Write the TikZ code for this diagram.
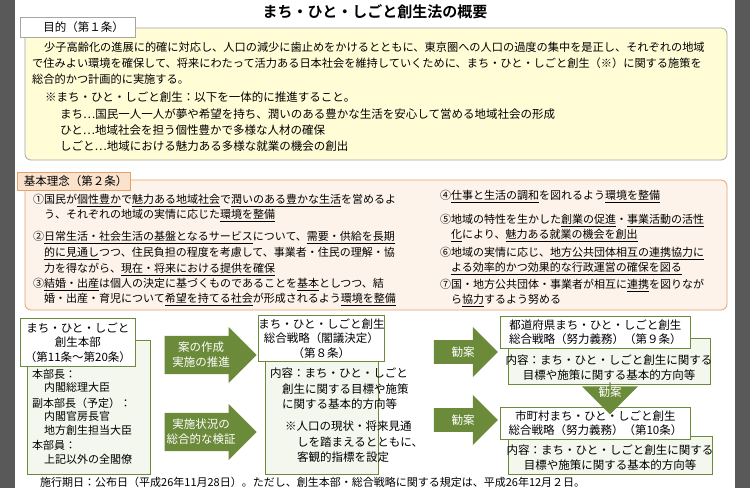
\documentclass[tikz,border=0pt]{standalone}
\usepackage{fontspec}
\setmainfont{Noto Sans CJK JP}[BoldFont={Noto Sans CJK JP Bold}]
\usetikzlibrary{shapes.arrows, positioning}
\definecolor{frameyel}{HTML}{FFFCD6}
\definecolor{framepeach}{HTML}{FDF3EA}
\definecolor{edgeorange}{HTML}{E0A46A}
\definecolor{tabpeach}{HTML}{FBE2CC}
\definecolor{olive}{HTML}{6B8A3A}
\definecolor{palegreen}{HTML}{F4F7EE}
\newcommand\ud[1]{\underline{#1}}
\begin{document}
\begin{tikzpicture}[
    x=1pt, y=-1pt,
    txt/.style={anchor=north west, inner sep=0pt, align=left, font=\fontsize{11.5}{15.5}\selectfont},
    tab/.style={draw=gray!70, fill=white, anchor=north west, inner sep=0pt, font=\fontsize{11.5}{14}\selectfont},
    headbox/.style={draw=olive, fill=white, thick, align=center, inner sep=0pt, font=\fontsize{11.5}{14.5}\selectfont},
    bodybox/.style={draw=olive, fill=palegreen, thick},
    greenarrow/.style={single arrow, fill=olive, draw=none, text=white, align=center, inner sep=0pt,
        single arrow head extend=6pt, shape border rotate=0, font=\fontsize{11.5}{15}\selectfont}
]
   % background
   \fill[black!65] (0,0) rectangle (750,488);
   \fill[white] (15,0) rectangle (735,488);
   \useasboundingbox (0,0) rectangle (750,488);

   \node[font=\bfseries\fontsize{15}{18}\selectfont] (title) at (375,12) {まち・ひと・しごと創生法の概要};

   % purpose
   \draw[gray!70, fill=frameyel, rounded corners=6pt, thick] (25,28) rectangle (727,160);
   \node[tab, minimum width=115pt, minimum height=20pt] (purposetab) at (20,17) {\hspace{12pt}目的（第１条）};
   \node[txt, font=\fontsize{11.2}{16}\selectfont] (purpose) at (32,42) {\hspace{12pt}少子高齢化の進展に的確に対応し、人口の減少に歯止めをかけるとともに、東京圏への人口の過度の集中を是正し、それぞれの地域\\
   で住みよい環境を確保して、将来にわたって活力ある日本社会を維持していくために、まち・ひと・しごと創生（※）に関する施策を\\
   総合的かつ計画的に実施する。};
   \node[txt] (note) at (45,92) {※まち・ひと・しごと創生：以下を一体的に推進すること。};
   \node[txt] (machi) at (60,109) {まち…国民一人一人が夢や希望を持ち、潤いのある豊かな生活を安心して営める地域社会の形成};
   \node[txt] (hito) at (60,125) {ひと…地域社会を担う個性豊かで多様な人材の確保};
   \node[txt] (shigoto) at (60,141) {しごと…地域における魅力ある多様な就業の機会の創出};

   % basic principles
   \draw[edgeorange, fill=framepeach, rounded corners=6pt, thick] (25,180) rectangle (727,310);
   \node[tab, draw=edgeorange, fill=tabpeach, minimum width=113pt, minimum height=18pt] (principletab) at (17,172) {\hspace{4pt}基本理念（第２条）\hfill};
   \node[txt, font=\fontsize{11}{15}\selectfont] (p1) at (33,194) {①国民が\ud{個性豊か}で\ud{魅力ある地域社会}で\ud{潤いのある豊かな生活}を営めるよ\\
   \hspace{11pt}う、それぞれの地域の実情に応じた\ud{環境を整備}};
   \node[txt, font=\fontsize{11}{16}\selectfont] (p2) at (33,231) {②\ud{日常生活・社会生活の基盤となるサービス}について、\ud{需要・供給を長期}\\
   \hspace{11pt}\ud{的に見通し}つつ、住民負担の程度を考慮して、事業者・住民の理解・協\\
   \hspace{11pt}力を得ながら、\ud{現在・将来における提供を確保}};
   \node[txt, font=\fontsize{11}{15}\selectfont] (p3) at (33,278) {③\ud{結婚・出産}は個人の決定に基づくものであることを\ud{基本}としつつ、結\\
   \hspace{11pt}婚・出産・育児について\ud{希望を持てる社会}が形成されるよう\ud{環境を整備}};
   \node[txt, font=\fontsize{11}{15}\selectfont] (p4) at (440,190) {④\ud{仕事と生活の調和}を図れるよう\ud{環境を整備}};
   \node[txt, font=\fontsize{11}{15}\selectfont] (p5) at (440,214) {⑤地域の特性を生かした\ud{創業の促進}・\ud{事業活動の活性}\\
   \hspace{11pt}\ud{化}により、\ud{魅力ある就業の機会を創出}};
   \node[txt, font=\fontsize{11}{15}\selectfont] (p6) at (440,247) {⑥地域の実情に応じ、\ud{地方公共団体相互の連携協力に}\\
   \hspace{11pt}\ud{よる効率的かつ効果的な行政運営の確保を図る}};
   \node[txt, font=\fontsize{11}{15}\selectfont] (p7) at (440,279) {⑦国・地方公共団体・事業者が相互に\ud{連携}を図りなが\\
   \hspace{11pt}ら\ud{協力}するよう努める};

   % headquarters
   \draw[bodybox] (27,340) rectangle (150,474);
   \node[headbox, minimum width=115pt, minimum height=48pt, anchor=north west] (hq) at (20,318) {まち・ひと・しごと\\創生本部\\（第11条～第20条）};
   \node[txt, font=\fontsize{11}{13.5}\selectfont] (hqmembers) at (32,369) {本部長：\\\hspace{12pt}内閣総理大臣\\[2pt]副本部長（予定）：\\\hspace{12pt}内閣官房長官\\\hspace{12pt}地方創生担当大臣\\[2pt]本部員：\\\hspace{12pt}上記以外の全閣僚};

   % national strategy
   \draw[bodybox] (265,345) rectangle (378,474);
   \node[headbox, minimum width=117pt, minimum height=46pt, anchor=north west] (national) at (258,315) {まち・ひと・しごと創生\\総合戦略（閣議決定）\\（第８条）};
   \node[txt] (nationalbody) at (270,368) {内容：まち・ひと・しごと\\\hspace{12pt}創生に関する目標や施策\\\hspace{12pt}に関する基本的方向等};
   \node[txt] (nationalnote) at (285,421) {※人口の現状・将来見通\\\hspace{12pt}しを踏まえるとともに、\\\hspace{12pt}客観的指標を設定};

   % prefecture / municipality strategies
   \draw[bodybox] (508,338) rectangle (710,384);
   \node[headbox, minimum width=190pt, minimum height=32pt, anchor=north west] (pref) at (500,316) {都道府県まち・ひと・しごと創生\\総合戦略（努力義務）（第９条）};
   \node[align=center, inner sep=0pt, font=\fontsize{11.5}{15}\selectfont] (prefbody) at (609,368) {内容：まち・ひと・しごと創生に関する\\目標や施策に関する基本的方向等};
   \draw[bodybox] (508,436) rectangle (712,474);
   \node[headbox, minimum width=190pt, minimum height=32pt, anchor=north west] (muni) at (500,407) {市町村まち・ひと・しごと創生\\総合戦略（努力義務）（第10条）};
   \node[align=center, inner sep=0pt, font=\fontsize{11.5}{15}\selectfont] (munibody) at (610,458) {内容：まち・ひと・しごと創生に関する\\目標や施策に関する基本的方向等};

   % arrows
   \node[greenarrow, minimum height=92pt, minimum width=56pt, text width=70pt] (draft) at (201,355) {案の作成\\実施の推進};
   \node[greenarrow, minimum height=92pt, minimum width=56pt, text width=70pt] (review) at (201,432) {実施状況の\\総合的な検証};
   \node[greenarrow, minimum height=64pt, minimum width=50pt, text width=50pt] (propose1) at (460,352) {\hspace{6pt}勧案\hfill};
   \node[greenarrow, minimum height=64pt, minimum width=50pt, text width=50pt] (propose2) at (460,420) {\hspace{6pt}勧案\hfill};
   \node[greenarrow, shape border rotate=270, minimum height=32pt, minimum width=56pt, single arrow head extend=10pt] (propose3) at (610,398) {};
   \node[text=white, font=\fontsize{11.5}{15}\selectfont] (proposelabel) at (610,392) {勧案};

   \node[txt, font=\fontsize{11}{14}\selectfont] (footer) at (40,477) {施行期日：公布日（平成26年11月28日）。ただし、創生本部・総合戦略に関する規定は、平成26年12月２日。};
\end{tikzpicture}
\end{document}
